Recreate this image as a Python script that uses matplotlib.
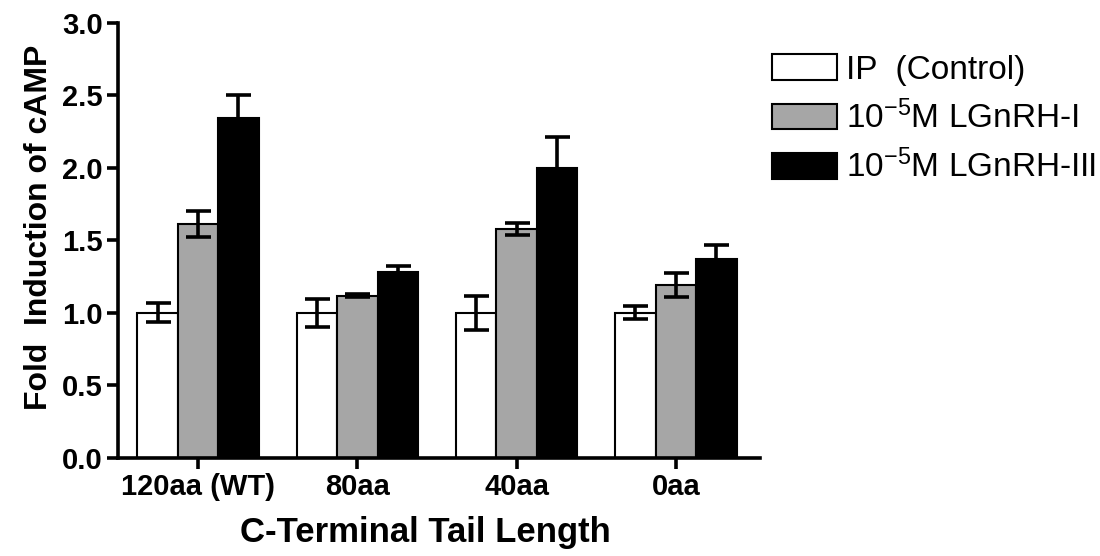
import numpy as np
import matplotlib
matplotlib.use("Agg")
import matplotlib.pyplot as plt

plt.rcParams['font.family'] = ['Liberation Sans', 'DejaVu Sans']
plt.rcParams['mathtext.fontset'] = 'custom'
plt.rcParams['mathtext.rm'] = 'Liberation Sans'
plt.rcParams['mathtext.it'] = 'Liberation Sans'

groups = ["120aa (WT)", "80aa", "40aa", "0aa"]
series = ["IP  (Control)", "10$^{-5}$M LGnRH-I", "10$^{-5}$M LGnRH-III"]
control = [1.00, 1.00, 1.00, 1.00]
control_err = [0.065, 0.097, 0.117, 0.045]
lgnrh1 = [1.61, 1.117, 1.576, 1.194]
lgnrh1_err = [0.09, 0.01, 0.04, 0.083]
lgnrh3 = [2.345, 1.278, 1.997, 1.371]
lgnrh3_err = [0.155, 0.045, 0.215, 0.095]

colors = ["white", "#a6a6a6", "black"]
values = [control, lgnrh1, lgnrh3]
errors = [control_err, lgnrh1_err, lgnrh3_err]

fig = plt.figure(figsize=(11, 5.56), dpi=100)
ax = fig.add_axes([0.1073, 0.1763, 0.5836, 0.7832])

x = np.arange(len(groups))
w = 0.254
for i in range(3):
    ax.bar(x + (i - 1) * w, values[i], w, color=colors[i], edgecolor="black",
           linewidth=1.5, label=series[i], zorder=2)
    ax.errorbar(x + (i - 1) * w, values[i], yerr=errors[i], fmt="none",
                ecolor="black", elinewidth=2.6, capsize=9, capthick=2.6, zorder=3)

ax.set_ylim(0, 3.0)
ax.set_xlim(-0.502, 3.528)
ax.set_yticks(np.arange(0, 3.01, 0.5))
ax.set_yticklabels([f"{v:.1f}" for v in np.arange(0, 3.01, 0.5)])
ax.set_xticks(x)
ax.set_xticklabels(groups)
for s in ["top", "right"]:
    ax.spines[s].set_visible(False)
for s in ["left", "bottom"]:
    ax.spines[s].set_linewidth(2.6)
ax.tick_params(axis="both", width=2.6, length=8, labelsize=21, pad=3)
for lab in ax.get_xticklabels() + ax.get_yticklabels():
    lab.set_fontweight("bold")

ax.set_ylabel("Fold  Induction of cAMP", fontsize=23, fontweight="bold")
ax.yaxis.set_label_coords(-0.099, 0.53)
ax.set_xlabel("C-Terminal Tail Length", fontsize=25, fontweight="bold")
ax.xaxis.set_label_coords(0.478, -0.133)

ax.legend(loc="upper left", bbox_to_anchor=(772 / 1100, 1 - 54 / 556),
          bbox_transform=fig.transFigure, frameon=False,
          fontsize=24, handlelength=1.95, handleheight=0.82, handletextpad=0.28,
          labelspacing=0.45, borderaxespad=0, borderpad=0)

fig.savefig("out.png", dpi=100)
